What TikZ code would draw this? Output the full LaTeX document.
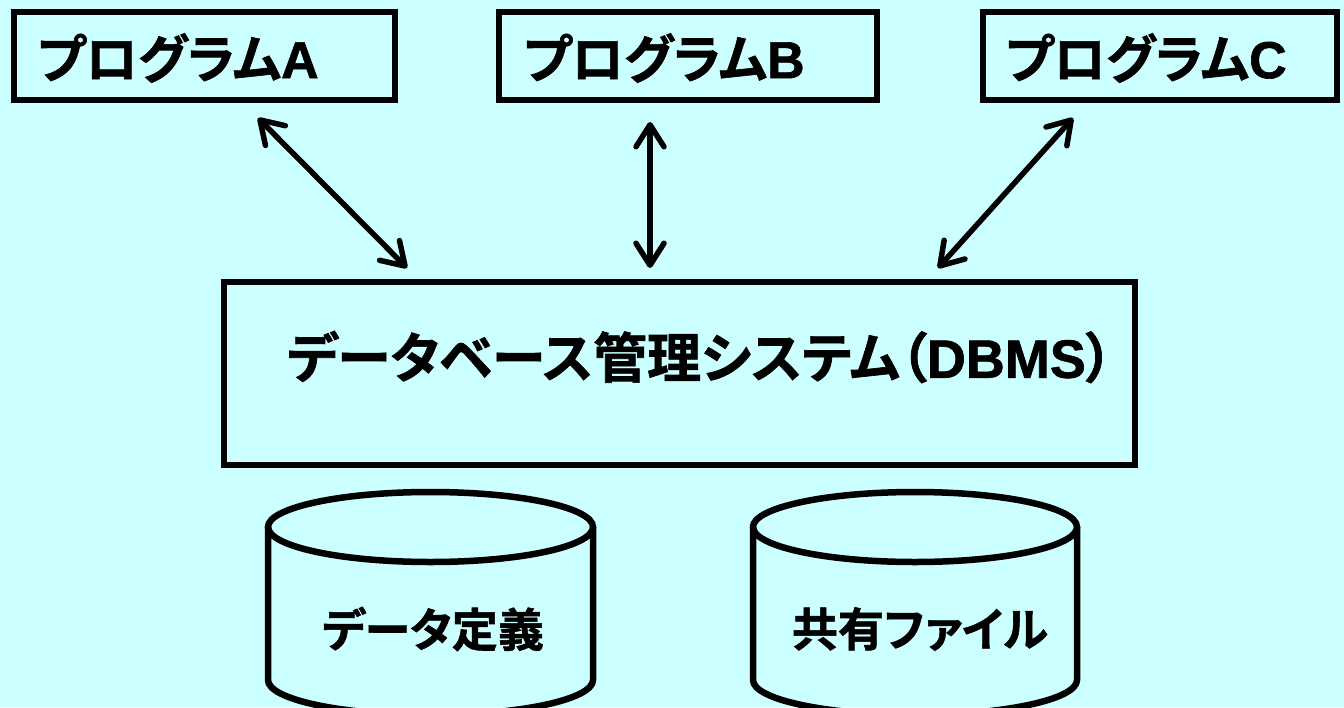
\documentclass[tikz,border=0pt]{standalone}
\usepackage{fontspec}
\usetikzlibrary{arrows.meta}
\newfontfamily\jp{Noto Sans CJK JP}[BoldFont={* Bold}, BoldFeatures={FakeBold=1.2}, RawFeature=+palt]
\newfontfamily\lat{Liberation Sans}[BoldFeatures={FakeBold=1.2}]
\definecolor{bg}{RGB}{204,255,255}
\tikzset{
  box/.style={draw=black, line width=6.5pt, fill=bg, inner sep=0pt},
  lbl/.style={inner sep=0pt, font=\jp\bfseries\fontsize{52}{56}\selectfont},
  dlbl/.style={inner sep=0pt, font=\jp\bfseries\fontsize{54}{58}\selectfont},
  clbl/.style={inner sep=0pt, font=\jp\bfseries\fontsize{46}{50}\selectfont},
  conn/.style={line width=5.5pt, line cap=round, {Straight Barb[length=22pt,width=28pt,round]}-{Straight Barb[length=22pt,width=28pt,round]}},
  cyl/.style={draw=black, line width=6.5pt}
}
\begin{document}
\begin{tikzpicture}[x=1pt,y=-1pt]
\fill[bg] (0,0) rectangle (1344,707);
\useasboundingbox (0,0) rectangle (1344,707);
% program boxes
\node[box, minimum width=381pt, minimum height=88pt] (boxA) at (204.5,56) {};
\node[box, minimum width=378pt, minimum height=88pt] (boxB) at (688,56) {};
\node[box, minimum width=354pt, minimum height=88pt] (boxC) at (1160,56) {};
\node[lbl, anchor=west] (tA) at (37,58) {プログラム{\lat\bfseries A}};
\node[lbl, anchor=west] (tB) at (523,58) {プログラム{\lat\bfseries B}};
\node[lbl, anchor=west] (tC) at (1005,58) {プログラム{\lat\bfseries C}};
% DBMS
\node[box, minimum width=911pt, minimum height=183pt] (dbms) at (679.5,373.5) {};
\node[dlbl] (tD) at (700,357) {データベース管理システム（{\lat\bfseries DBMS}）};
% arrows
\coordinate (a1) at (258,118); \coordinate (a2) at (407,268);
\coordinate (b1) at (650,122); \coordinate (b2) at (650,268);
\coordinate (c1) at (1073,118); \coordinate (c2) at (938,268);
\draw[conn] (a1) -- (a2);
\draw[conn] (b1) -- (b2);
\draw[conn] (c1) -- (c2);
% cylinders
\draw[cyl] (268,527) -- (268,680) arc[start angle=180,end angle=360,x radius=162.5pt,y radius=35pt] -- (593,527);
\draw[cyl] (430.5,527) ellipse[x radius=162.5pt,y radius=35pt];
\draw[cyl] (753,527) -- (753,680) arc[start angle=180,end angle=360,x radius=162pt,y radius=35pt] -- (1077,527);
\draw[cyl] (915,527) ellipse[x radius=162pt,y radius=35pt];
\node[clbl] (tE) at (433,629) {データ定義};
\node[clbl] (tF) at (920,629) {共有ファイル};
\end{tikzpicture}
\end{document}
